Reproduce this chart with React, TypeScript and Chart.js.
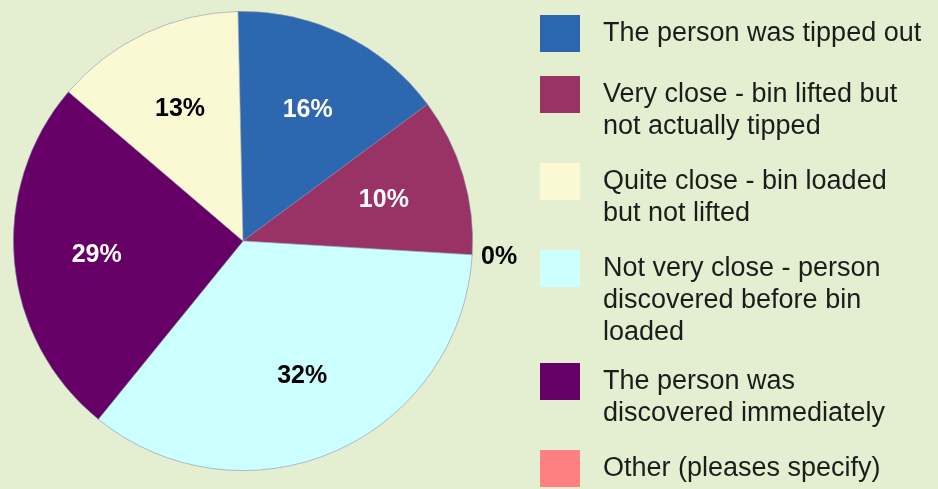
import React, { useEffect, useRef } from "react";
import { Chart, registerables } from "chart.js";

Chart.register(...registerables);

// Legend order
const categories: string[][] = [
  ["The person was tipped out"],
  ["Very close - bin lifted but", "not actually tipped"],
  ["Quite close - bin loaded", "but not lifted"],
  ["Not very close - person", "discovered before bin", "loaded"],
  ["The person was", "discovered immediately"],
  ["Other (pleases specify)"],
];
// Slice shares as drawn in the picture
const sliceShares = [15.2, 11.1, 13.4, 34.9, 25.4, 0];
// Percent texts printed on the slices
const percentLabels = ["16%", "10%", "13%", "32%", "29%", "0%"];
const colors = ["#2d67b0", "#993366", "#fbf9d3", "#ccffff", "#660066", "#ff8080"];
const labelColors = ["#ffffff", "#ffffff", "#000000", "#000000", "#ffffff", "#000000"];
// Order in which slices go round the pie (clockwise from top)
const pieOrder = [0, 1, 5, 3, 4, 2];

const BG = "#e4eed0";

export default function App() {
  const ref = useRef<HTMLCanvasElement | null>(null);

  useEffect(() => {
    document.body.style.margin = "0";
    const canvas = ref.current;
    if (!canvas) return;

    const bgPlugin = {
      id: "bg",
      beforeDraw(chart: any) {
        const ctx = chart.ctx;
        ctx.save();
        ctx.fillStyle = BG;
        ctx.fillRect(0, 0, chart.width, chart.height);
        ctx.restore();
      },
    };

    const labelPlugin = {
      id: "sliceLabels",
      afterDatasetsDraw(chart: any) {
        const ctx = chart.ctx;
        const meta = chart.getDatasetMeta(0);
        ctx.save();
        ctx.font = "bold 25px 'Liberation Sans', Arial, sans-serif";
        ctx.textAlign = "center";
        ctx.textBaseline = "middle";
        meta.data.forEach((arc: any, i: number) => {
          const idx = pieOrder[i];
          const p = arc.getProps(["x", "y", "startAngle", "endAngle", "outerRadius"], true);
          const mid = (p.startAngle + p.endAngle) / 2;
          const span = p.endAngle - p.startAngle;
          const r = span < 1e-6 ? p.outerRadius + 27 : p.outerRadius * 0.64;
          const tx = p.x + Math.cos(mid) * r;
          const ty = p.y + Math.sin(mid) * r;
          ctx.fillStyle = labelColors[idx];
          ctx.fillText(percentLabels[idx], tx, ty + 1);
        });
        ctx.restore();
      },
    };

    const legendPlugin = {
      id: "customLegend",
      afterDraw(chart: any) {
        const ctx = chart.ctx;
        ctx.save();
        ctx.font = "27px 'Liberation Sans', Arial, sans-serif";
        ctx.textAlign = "left";
        ctx.textBaseline = "alphabetic";
        const boxX = 540;
        const boxW = 40;
        const boxH = 37;
        const textX = 603;
        const lineH = 32;
        let top = 15;
        categories.forEach((lines, i) => {
          ctx.fillStyle = colors[i];
          ctx.fillRect(boxX, top, boxW, boxH);
          ctx.fillStyle = "#1c1c1c";
          lines.forEach((ln, j) => {
            ctx.fillText(ln, textX, top + 26 + j * lineH);
          });
          top += 35 + 26 * lines.length;
        });
        ctx.restore();
      },
    };

    const chart = new Chart(canvas, {
      type: "pie",
      data: {
        labels: pieOrder.map((i) => categories[i].join(" ")),
        datasets: [
          {
            data: pieOrder.map((i) => sliceShares[i]),
            backgroundColor: pieOrder.map((i) => colors[i]),
            borderColor: "rgba(130,140,175,0.7)",
            borderWidth: 0.8,
          },
        ],
      },
      options: {
        responsive: false,
        animation: false,
        devicePixelRatio: 1,
        rotation: -1.25,
        layout: { padding: { left: 13, top: 11, right: 465, bottom: 18 } },
        plugins: {
          legend: { display: false },
          tooltip: { enabled: false },
        },
      },
      plugins: [bgPlugin, labelPlugin, legendPlugin],
    });

    return () => chart.destroy();
  }, []);

  return <canvas ref={ref} width={938} height={489} style={{ display: "block" }} />;
}
